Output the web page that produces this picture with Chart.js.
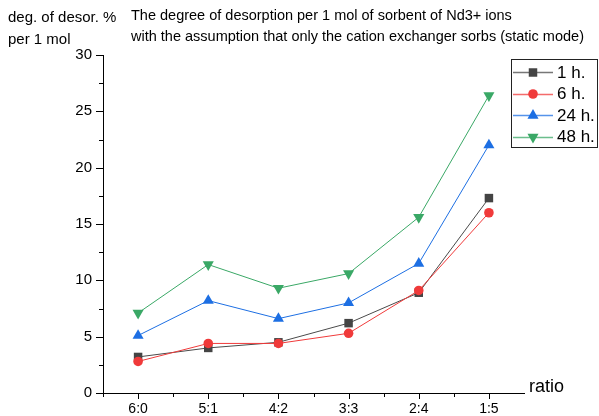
<!DOCTYPE html>
<html>
<head>
<meta charset="utf-8">
<script src="https://cdn.jsdelivr.net/npm/chart.js@4/dist/chart.umd.min.js"></script>
<style>
  html, body { margin: 0; padding: 0; background: #fff; }
  #wrap { position: relative; width: 599px; height: 416px; }
</style>
</head>
<body>
<div id="wrap"><canvas id="c" width="599" height="416"></canvas></div>
<script>
const categories = ['6:0', '5:1', '4:2', '3:3', '2:4', '1:5'];
const h1  = [3.2, 4.0, 4.5, 6.2, 8.9, 17.3];
const h6  = [2.8, 4.4, 4.4, 5.3, 9.1, 16.0];
const h24 = [5.1, 8.2, 6.6, 8.0, 11.5, 22.0];
const h48 = [7.1, 11.4, 9.3, 10.6, 15.6, 26.4];
const seriesLabels = ['1 h.', '6 h.', '24 h.', '48 h.'];
const yMajorTicks = [0, 5, 10, 15, 20, 25, 30];
const yMinorTicks = [2.5, 7.5, 12.5, 17.5, 22.5, 27.5];

const FONT = '"Liberation Sans", Arial, sans-serif';

const overlay = {
  id: 'overlay',
  afterDraw(chart) {
    const ctx = chart.ctx;
    const x = chart.scales.x, y = chart.scales.y;
    const area = chart.chartArea;
    ctx.save();
    ctx.strokeStyle = '#000';
    ctx.lineWidth = 1;
    ctx.beginPath();
    yMajorTicks.forEach(v => {
      const py = Math.round(y.getPixelForValue(v)) + 0.5;
      ctx.moveTo(area.left - 7, py); ctx.lineTo(area.left, py);
    });
    yMinorTicks.forEach(v => {
      const py = Math.round(y.getPixelForValue(v)) + 0.5;
      ctx.moveTo(area.left - 4, py); ctx.lineTo(area.left, py);
    });
    categories.forEach((c, i) => {
      const px = Math.round(x.getPixelForValue(i)) + 0.5;
      ctx.moveTo(px, area.bottom); ctx.lineTo(px, area.bottom + 6);
      if (i < categories.length - 1) {
        const pm = Math.round((x.getPixelForValue(i) + x.getPixelForValue(i + 1)) / 2) + 0.5;
        ctx.moveTo(pm, area.bottom); ctx.lineTo(pm, area.bottom + 4);
      }
    });
    const lx = Math.round(area.left) + 0.5;
    ctx.moveTo(lx, area.bottom); ctx.lineTo(lx, area.bottom + 4);
    ctx.stroke();

    ctx.fillStyle = '#000';
    ctx.textBaseline = 'middle';
    ctx.textAlign = 'left';
    ctx.font = '15px ' + FONT;
    ctx.fillText('deg. of desor. %', 8, 18);
    ctx.fillText('per 1 mol', 8, 40);
    ctx.font = '14.5px ' + FONT;
    ctx.fillText('The degree of desorption per 1 mol of sorbent of Nd3+ ions', 131, 16);
    ctx.fillText('with the assumption that only the cation exchanger sorbs (static mode)', 131, 37);
    ctx.font = '18px ' + FONT;
    ctx.fillText('ratio', area.right + 5, area.bottom - 6);

    ctx.strokeStyle = '#222';
    ctx.strokeRect(511.5, 59.5, 86, 88);
    const rows = [72, 93.5, 115, 136.5];
    chart.data.datasets.forEach((ds, i) => {
      const ry = rows[i];
      ctx.strokeStyle = ds.borderColor;
      ctx.lineWidth = 1.5;
      ctx.globalAlpha = 0.75;
      ctx.beginPath();
      ctx.moveTo(513, Math.round(ry) + 0.5); ctx.lineTo(553, Math.round(ry) + 0.5);
      ctx.stroke();
      ctx.globalAlpha = 1;
      ctx.fillStyle = ds.pointBackgroundColor;
      Chart.helpers.drawPoint(ctx, {
        pointStyle: ds.pointStyle, rotation: ds.pointRotation || 0,
        radius: ds.pointRadius, borderWidth: 0
      }, 533, ry + 0.5);
      ctx.fillStyle = '#000';
      ctx.font = '17px ' + FONT;
      ctx.fillText(ds.label, 557, ry + 1);
    });
    ctx.restore();
  }
};

new Chart(document.getElementById('c'), {
  type: 'line',
  data: {
    labels: categories,
    datasets: [
      { label: seriesLabels[0], data: h1, borderColor: '#4a4a4a', backgroundColor: '#444',
        pointBackgroundColor: '#444', pointBorderWidth: 0, pointStyle: 'rect', pointRadius: 6,
        borderWidth: 1, order: 4 },
      { label: seriesLabels[1], data: h6, borderColor: '#f03a3a', backgroundColor: '#f03a3a',
        pointBackgroundColor: '#f03a3a', pointBorderWidth: 0, pointStyle: 'circle', pointRadius: 4.8,
        borderWidth: 1, order: 3 },
      { label: seriesLabels[2], data: h24, borderColor: '#1d6fe3', backgroundColor: '#1d6fe3',
        pointBackgroundColor: '#1d6fe3', pointBorderWidth: 0, pointStyle: 'triangle', pointRadius: 6.4,
        borderWidth: 1, order: 2 },
      { label: seriesLabels[3], data: h48, borderColor: '#3aa866', backgroundColor: '#3aa866',
        pointBackgroundColor: '#3aa866', pointBorderWidth: 0, pointStyle: 'triangle', pointRotation: 180,
        pointRadius: 6.4, borderWidth: 1, order: 1 }
    ]
  },
  options: {
    responsive: false,
    animation: false,
    events: [],
    layout: { padding: { top: 55, right: 75, left: 0, bottom: 0 } },
    plugins: { legend: { display: false }, tooltip: { enabled: false }, title: { display: false } },
    scales: {
      x: {
        offset: true,
        grid: { display: true, drawOnChartArea: false, drawTicks: false },
        border: { display: true, color: '#000', width: 1 },
        ticks: { color: '#000', font: { family: FONT, size: 14 }, padding: 8, maxRotation: 0, autoSkip: false },
        afterFit(s) { s.height = 23; }
      },
      y: {
        min: 0, max: 30,
        grid: { display: true, drawOnChartArea: false, drawTicks: false },
        border: { display: true, color: '#000', width: 1 },
        ticks: { stepSize: 5, color: '#000', font: { family: FONT, size: 15 }, padding: 11 },
        afterFit(s) { s.width = 103; }
      }
    }
  },
  plugins: [overlay]
});
</script>
</body>
</html>
